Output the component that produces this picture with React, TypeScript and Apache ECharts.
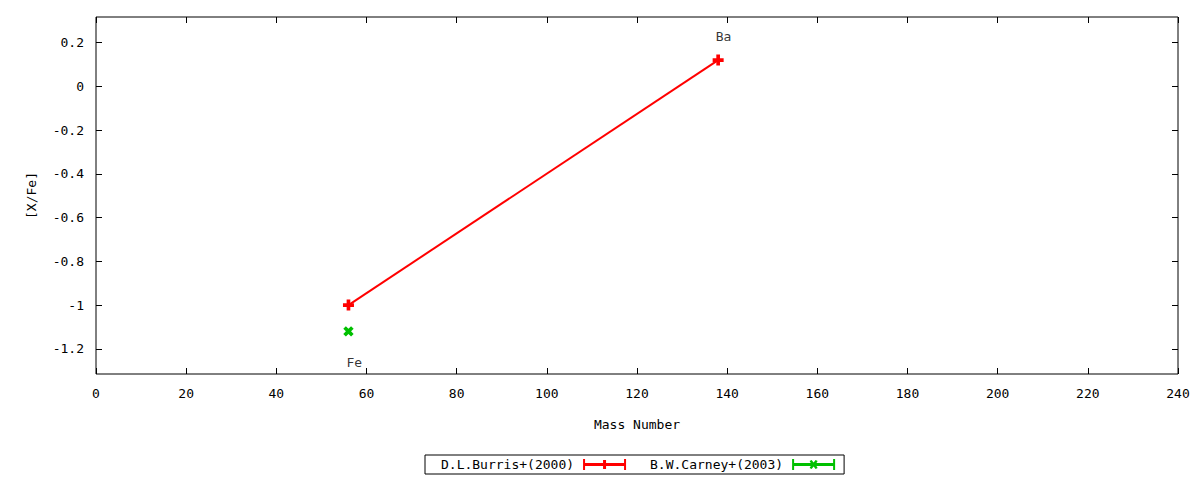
import * as echarts from 'echarts';
import React, { useEffect, useRef } from 'react';

const burrisPoints = [
  [56, -1.0],
  [138, 0.12],
];
const carneyPoints = [[56, -1.12]];
const elementLabels = [
  { name: 'Fe', value: [57.3, -1.263] },
  { name: 'Ba', value: [139.2, 0.229] },
];
const xRange = { min: 0, max: 240, interval: 20 };
const yRange = { min: -1.315, max: 0.317 };
const yTickValues = [-1.2, -1, -0.8, -0.6, -0.4, -0.2, 0, 0.2];

const FONT = 'DejaVu Sans Mono';

const plusSymbol = 'path://M3,0H6V3H9V6H6V9H3V6H0V3H3Z';
const redLegendIcon =
  'path://M0,0H2V11H0Z M41,0H43V11H41Z M2,4H41V7H2Z M20,1H23V10H20Z M17,4H26V7H17Z';
const greenLegendIcon =
  'path://M0,0H2V11H0Z M41,0H43V11H41Z M2,4H41V7H2Z M17.5,2L19.5,1L21.5,3.5L23.5,1L25.5,2L23.5,5.5L25.5,9L23.5,10L21.5,7.5L19.5,10L17.5,9L19.5,5.5Z';

const tickStyle = { inside: true, length: 6, lineStyle: { color: '#000' } };

const option: echarts.EChartsOption = {
  animation: false,
  grid: {
    left: 96,
    right: 22,
    top: 17,
    bottom: 106,
    show: true,
    borderColor: '#000',
    borderWidth: 1,
  },
  legend: {
    left: 425,
    top: 455,
    orient: 'horizontal',
    align: 'right',
    borderColor: '#000',
    borderWidth: 1,
    borderRadius: 0,
    padding: [3, 9, 3, 16],
    itemWidth: 43,
    itemHeight: 11,
    itemGap: 24,
    textStyle: { fontFamily: FONT, fontSize: 13, color: '#000', padding: [0, 4, 0, 0] },
    data: [
      { name: 'D.L.Burris+(2000)', icon: redLegendIcon },
      { name: 'B.W.Carney+(2003)', icon: greenLegendIcon },
    ],
  },
  xAxis: [
    {
      type: 'value',
      min: xRange.min,
      max: xRange.max,
      interval: xRange.interval,
      name: 'Mass Number',
      nameLocation: 'middle',
      nameGap: 44,
      nameTextStyle: { fontFamily: FONT, fontSize: 13, color: '#000' },
      axisLine: { show: false, onZero: false },
      axisTick: tickStyle,
      axisLabel: { fontFamily: FONT, fontSize: 13, color: '#000', margin: 13 },
      splitLine: { show: false },
    },
    {
      type: 'value',
      position: 'top',
      min: xRange.min,
      max: xRange.max,
      interval: xRange.interval,
      axisLine: { show: false, onZero: false },
      axisTick: tickStyle,
      axisLabel: { show: false },
      splitLine: { show: false },
    },
  ],
  yAxis: [
    {
      type: 'value',
      min: yRange.min,
      max: yRange.max,
      name: '[X/Fe]',
      nameLocation: 'middle',
      nameGap: 58,
      nameTextStyle: { fontFamily: FONT, fontSize: 13, color: '#000' },
      axisLine: { show: false, onZero: false },
      axisTick: { ...tickStyle, customValues: yTickValues },
      axisLabel: {
        fontFamily: FONT,
        fontSize: 13,
        color: '#000',
        margin: 12,
        customValues: yTickValues,
        formatter: (v: number) => String(Math.round(v * 10) / 10),
      },
      splitLine: { show: false },
    },
    {
      type: 'value',
      position: 'right',
      min: yRange.min,
      max: yRange.max,
      axisLine: { show: false, onZero: false },
      axisTick: { ...tickStyle, customValues: yTickValues },
      axisLabel: { show: false },
      splitLine: { show: false },
    },
  ],
  series: [
    {
      name: 'D.L.Burris+(2000)',
      type: 'line',
      data: burrisPoints,
      color: '#ff0000',
      lineStyle: { color: '#ff0000', width: 2 },
      symbol: plusSymbol,
      symbolSize: 11,
      itemStyle: { color: '#ff0000', borderWidth: 0 },
      showSymbol: true,
      z: 3,
    },
    {
      name: 'B.W.Carney+(2003)',
      type: 'line',
      data: carneyPoints,
      color: '#00c000',
      lineStyle: { color: '#00c000', width: 2 },
      symbol: plusSymbol,
      symbolRotate: 45,
      symbolSize: 11,
      itemStyle: { color: '#00c000', borderWidth: 0 },
      showSymbol: true,
      z: 3,
    },
    {
      name: 'labels',
      type: 'scatter',
      data: elementLabels,
      symbolSize: 0,
      silent: true,
      label: {
        show: true,
        position: 'inside',
        formatter: (p: any) => p.name,
        fontFamily: FONT,
        fontSize: 13,
        color: '#000',
      },
    },
  ],
};

const App: React.FC = () => {
  const chartRef = useRef<HTMLDivElement>(null);
  useEffect(() => {
    if (!chartRef.current) return;
    const instance = echarts.init(chartRef.current, null, { renderer: 'svg' });
    instance.setOption(option);
    return () => {
      instance.dispose();
    };
  }, []);

  return (
    <div
      ref={chartRef}
      style={{ position: 'fixed', left: 0, top: 0, width: 1200, height: 480, background: '#fff' }}
    />
  );
};

export default App;
